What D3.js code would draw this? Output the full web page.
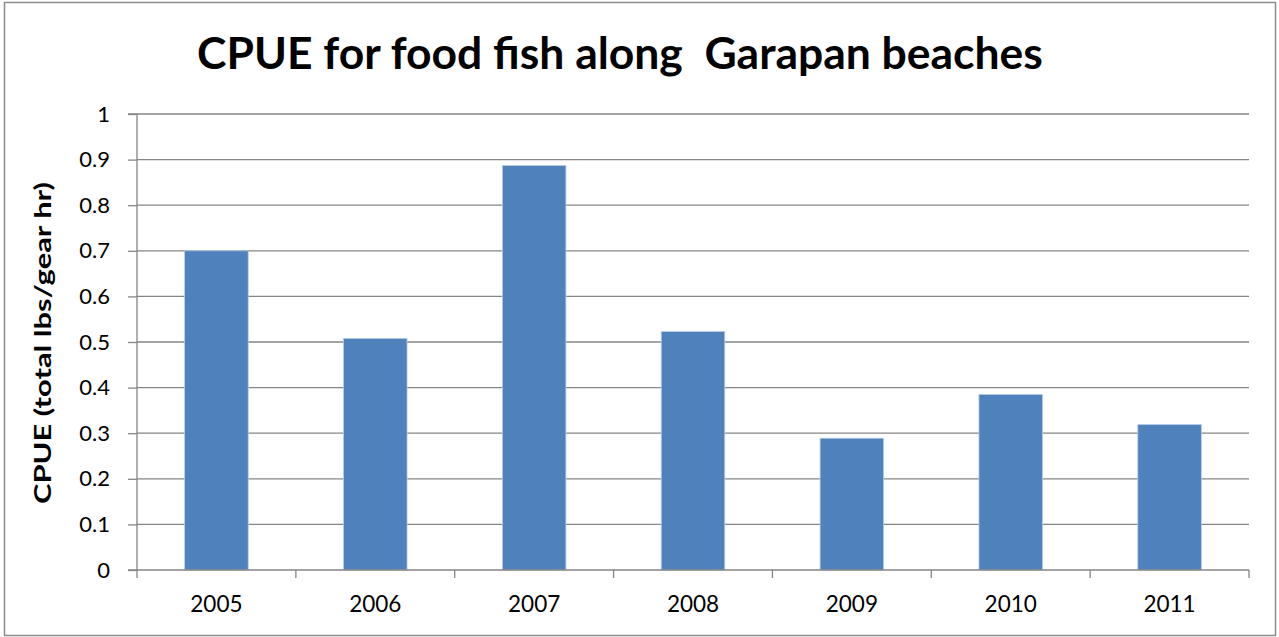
<!DOCTYPE html>
<html>
<head>
<meta charset="utf-8">
<script src="https://cdn.jsdelivr.net/npm/d3@7"></script>
<style>
  html, body { margin: 0; padding: 0; background: #fff; }
  svg { display: block; }
  text { font-family: Lato, "Open Sans", "DejaVu Sans", sans-serif; fill: #000; }
</style>
</head>
<body>
<svg id="chart" width="1279" height="637"></svg>
<script>
// CPUE by year
const years = ["2005", "2006", "2007", "2008", "2009", "2010", "2011"];
const cpue = [0.70, 0.508, 0.887, 0.523, 0.289, 0.385, 0.319];
const yTicks = [0, 0.1, 0.2, 0.3, 0.4, 0.5, 0.6, 0.7, 0.8, 0.9, 1];
const yTickLabels = ["0", "0.1", "0.2", "0.3", "0.4", "0.5", "0.6", "0.7", "0.8", "0.9", "1"];
const titleText = "CPUE for food fish along\u00a0\u00a0Garapan beaches";
const yTitleText = "CPUE (total lbs/gear hr)";

const W = 1279, H = 637;
const m = { left: 137, right: 1249, top: 114, bottom: 570 };

const svg = d3.select("#chart");

// chart frame
svg.append("rect")
  .attr("x", 4.5).attr("y", 2.5)
  .attr("width", 1271).attr("height", 633)
  .attr("fill", "#fff")
  .attr("stroke", "#8c8c8c").attr("stroke-width", 1.5);

const x = d3.scaleBand().domain(years).range([m.left, m.right]).paddingInner(0.6).paddingOuter(0.3);
const y = d3.scaleLinear().domain([0, 1]).range([m.bottom, m.top]);

// gridlines
svg.append("g")
  .selectAll("line")
  .data(yTicks.filter(d => d > 0))
  .join("line")
  .attr("x1", m.left).attr("x2", m.right)
  .attr("y1", d => y(d)).attr("y2", d => y(d))
  .attr("stroke", "#868686").attr("stroke-width", 1.3);

// bars
svg.append("g")
  .selectAll("rect")
  .data(years.map((yr, i) => ({ yr, v: cpue[i] })))
  .join("rect")
  .attr("x", d => x(d.yr))
  .attr("width", x.bandwidth())
  .attr("y", d => y(d.v))
  .attr("height", d => y(0) - y(d.v))
  .attr("fill", "#4f81bd")
  .attr("stroke", "#b8cce4").attr("stroke-width", 0.8);

// y axis
const yAxis = d3.axisLeft(y)
  .tickValues(yTicks)
  .tickFormat((d, i) => yTickLabels[i])
  .tickSize(9).tickPadding(18);
const gy = svg.append("g").attr("transform", `translate(${m.left},0)`).call(yAxis);
gy.select(".domain").attr("stroke", "#868686").attr("stroke-width", 1.3).attr("d", `M-9,${m.top}H0V${m.bottom}H-9`);
gy.selectAll(".tick line").attr("stroke", "#868686").attr("stroke-width", 1.3);
gy.selectAll(".tick text")
  .style("font-family", "Lato, 'Open Sans', sans-serif")
  .style("font-size", "22px").attr("fill", "#000");

// x axis (ticks at category boundaries)
const boundaries = d3.range(years.length + 1).map(i => m.left + i * (m.right - m.left) / years.length);
const gx = svg.append("g").attr("transform", `translate(0,${m.bottom})`);
gx.append("line")
  .attr("x1", m.left).attr("x2", m.right)
  .attr("stroke", "#868686").attr("stroke-width", 1.3);
gx.selectAll("line.tk")
  .data(boundaries)
  .join("line").attr("class", "tk")
  .attr("x1", d => d).attr("x2", d => d)
  .attr("y1", 0).attr("y2", 8)
  .attr("stroke", "#868686").attr("stroke-width", 1.3);
gx.selectAll("text")
  .data(years)
  .join("text")
  .attr("x", d => x(d) + x.bandwidth() / 2)
  .attr("y", 42)
  .attr("text-anchor", "middle")
  .style("font-size", "22.5px")
  .text(d => d);

// fit a text element to a given width by adjusting its font size
function fitWidth(sel, target) {
  const fs = parseFloat(sel.style("font-size"));
  const len = sel.node().getComputedTextLength();
  sel.style("font-size", (fs * target / len) + "px");
}

// title
const title = svg.append("text")
  .attr("x", 620).attr("y", 69)
  .attr("text-anchor", "middle")
  .style("font-weight", "bold")
  .style("font-size", "40px")
  .text(titleText);
fitWidth(title, 846);

// y axis title (condensed to its span along the axis)
svg.append("text")
  .attr("transform", "translate(51,343) rotate(-90)")
  .attr("text-anchor", "middle")
  .style("font-weight", "bold")
  .style("font-size", "22px")
  .attr("textLength", 322)
  .attr("lengthAdjust", "spacingAndGlyphs")
  .text(yTitleText);
</script>
</body>
</html>
